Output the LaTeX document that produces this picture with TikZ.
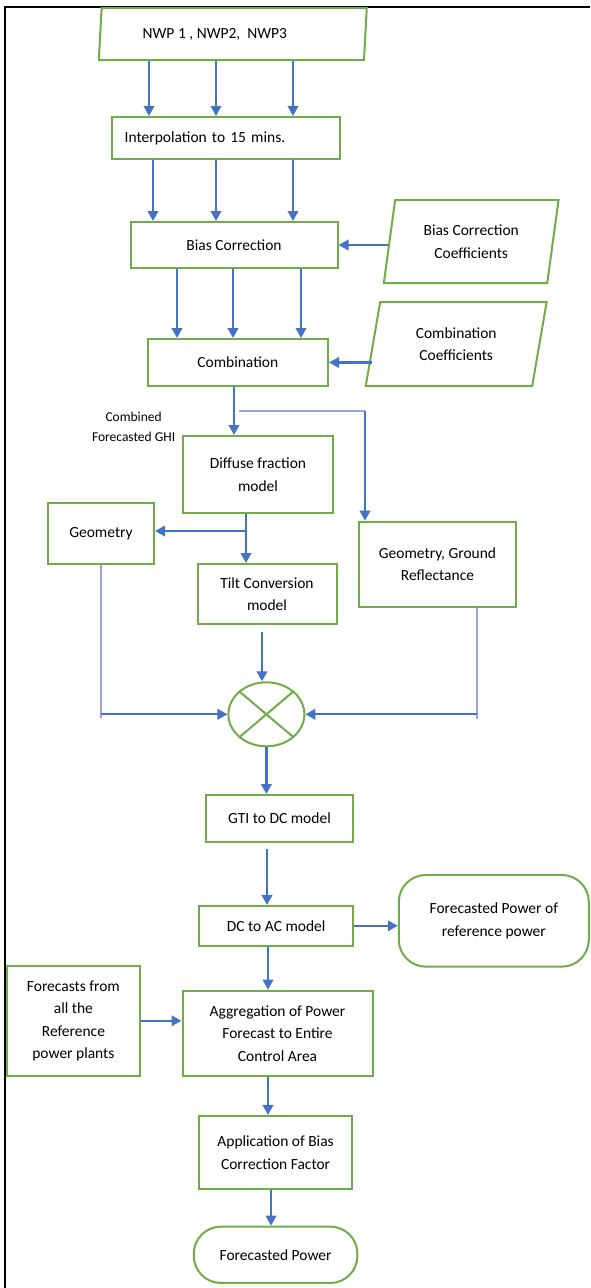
\documentclass[tikz,border=0pt]{standalone}
\usepackage{fontspec}
\setmainfont{Carlito}
\usepackage{tikz}
\usetikzlibrary{shapes.geometric,arrows.meta}
\definecolor{boxgreen}{HTML}{70AD47}
\definecolor{flowblue}{HTML}{4472C4}
\definecolor{feedblue}{HTML}{9AA6D4}

\begin{document}
\begin{tikzpicture}[x=1pt,y=-1pt, every node/.style={font=\fontsize{15.5}{22.5}\selectfont, align=center},
    blk/.style={draw=boxgreen, line width=2pt, inner sep=0pt},
    para/.style={blk, trapezium, trapezium stretches=true, trapezium left angle=#1, trapezium right angle=180-#1},
    term/.style={blk, rounded corners=27pt},
    arr/.style={draw=flowblue, line width=2.2pt, -{Triangle[length=10pt,width=10.5pt]}},
    feed/.style={draw=feedblue, line width=1.4pt}]
            \useasboundingbox (0,0) rectangle (590,1288);
            \draw[line width=2.5pt] (5,1288) -- (5,7) -- (590,7);

            \node[para=81, minimum width=268, minimum height=52] (nwp) at (232.8,34) {NWP 1 , NWP2,\ \ NWP3\hspace{36pt}};
            \node[blk, minimum width=228, minimum height=42, text width=202, align=left] (interp) at (225.7,138) {Interpolation to 15 mins.};
            \node[blk, minimum width=207, minimum height=46] (bias) at (234,245) {Bias Correction};
            \node[para=78, minimum width=175, minimum height=83] (bcc) at (471.2,241.5) {Bias Correction\\Coefficients};
            \node[blk, minimum width=180.5, minimum height=47] (comb) at (237.8,362.5) {Combination};
            \node[para=77, minimum width=182.4, minimum height=84] (cc) at (456.2,344) {Combination\hspace{12pt}\\Coefficients\hspace{12pt}};
            \node[font=\fontsize{13.5}{20}\selectfont] (ghi) at (133.6,426.7) {Combined\\Forecasted GHI};
            \node[blk, minimum width=150, minimum height=77] (diff) at (258,474.5) {Diffuse fraction\\model};
            \node[blk, minimum width=106, minimum height=61] (geo) at (101,533.5) {Geometry};
            \node[blk, minimum width=139, minimum height=60] (tilt) at (267,594) {Tilt Conversion\\model};
            \node[blk, minimum width=157, minimum height=85] (ggr) at (437.5,564.2) {Geometry, Ground\\Reflectance};
            \node[blk, ellipse, minimum width=76, minimum height=64] (mix) at (266.4,714.3) {};
            \draw[boxgreen, line width=2pt] (mix.north west) -- (mix.south east) (mix.north east) -- (mix.south west);
            \node[blk, minimum width=147, minimum height=47] (gti) at (279.5,818.5) {GTI to DC model};
            \node[blk, minimum width=153.6, minimum height=39.7] (dc) at (276.2,925.8) {DC to AC model};
            \node[term, minimum width=190, minimum height=91.7] (fpr) at (493.8,920.8) {Forecasted Power of\\reference power};
            \node[blk, minimum width=133.2, minimum height=110.3] (fref) at (73.4,1020.8) {Forecasts from\\all the\\Reference\\power plants};
            \node[blk, minimum width=190, minimum height=85.3] (agg) at (277.5,1033.3) {Aggregation of Power\\Forecast to Entire\\Control Area};
            \node[blk, minimum width=152.4, minimum height=73.3] (app) at (275.6,1152.6) {Application of Bias\\Correction Factor};
            \node[term, minimum width=163.6, minimum height=56.3] (fp) at (275.6,1254.8) {Forecasted Power};

            \foreach \x in {149,216,293} {
                \draw[arr] (\x,0 |- nwp.south) -- (\x,0 |- interp.north);
            }
            \foreach \x in {153,216,293} {
                \draw[arr] (\x,0 |- interp.south) -- (\x,0 |- bias.north);
            }
            \foreach \x in {177,233,301} {
                \draw[arr] (\x,0 |- bias.south) -- (\x,0 |- comb.north);
            }
            \draw[arr] (bcc.west |- bias.east) -- (bias.east);
            \draw[arr] (cc.west |- comb.east) -- (comb.east);

            \coordinate (split) at (239,411);
            \coordinate (turn) at (365,411);
            \draw[arr] (234,0 |- comb.south) -- (234,0 |- diff.north);
            \draw[feed] (split) -- (turn);
            \draw[arr] (turn) -- (turn |- ggr.north);

            \coordinate (fork) at (246,531);
            \draw[arr] (246,0 |- diff.south) -- (246,0 |- tilt.north);
            \draw[arr] (fork) -- (geo.east |- fork);

            \coordinate (tiltout) at (262,632);
            \draw[arr] (tiltout) -- (tiltout |- mix.north);
            \coordinate (gbend) at (geo.south |- mix.west);
            \draw[feed] (geo.south) -- ([yshift=-4pt]gbend);
            \draw[arr] (gbend) -- (mix.west);
            \coordinate (rbend) at (477,714.3);
            \draw[feed] (rbend |- ggr.south) -- ([yshift=-5pt]rbend);
            \draw[arr] (rbend) -- (mix.east);

            \draw[arr] (mix.south) -- (mix.south |- gti.north);
            \coordinate (gtiout) at (267,849);
            \draw[arr] (gtiout) -- (gtiout |- dc.north);
            \draw[arr] (dc.east) -- (dc.east -| fpr.west);
            \draw[arr] (268,0 |- dc.south) -- (268,0 |- agg.north);
            \draw[arr] (fref.east) -- (fref.east -| agg.west);
            \draw[arr] (268,0 |- agg.south) -- (268,0 |- app.north);
            \draw[arr] (271,0 |- app.south) -- (271,0 |- fp.north);
        \end{tikzpicture}
\end{document}
